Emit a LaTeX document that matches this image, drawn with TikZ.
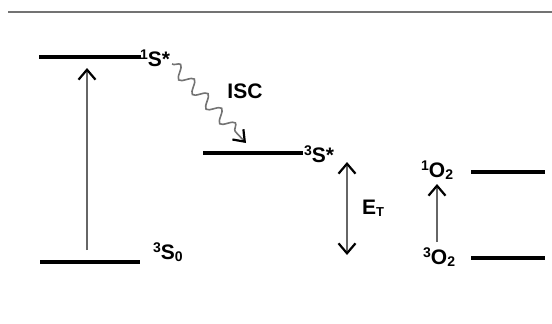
\documentclass[tikz,border=0pt]{standalone}
\usepackage{fontspec}
\setmainfont{Liberation Sans}
\usetikzlibrary{arrows.meta,decorations.pathmorphing}
% small raised / lowered indices in the label font
\newcommand{\upidx}[1]{\raisebox{6.5pt}{\fontsize{14}{14}\selectfont\bfseries #1}}
\newcommand{\dnidx}[1]{\raisebox{-2pt}{\fontsize{14}{14}\selectfont\bfseries #1}}
\tikzset{
  lvtip/.tip={Straight Barb[length=10pt,width=17pt,line width=2.2pt,color=black]},
  wvtip/.tip={Straight Barb[length=10pt,width=15pt,line width=2.2pt,color=black]}
}
\begin{document}
\begin{tikzpicture}[x=1pt,y=-1pt,
  level/.style={line width=3.5pt,black},
  lbl/.style={font=\fontsize{21}{23}\selectfont\bfseries,inner sep=0pt},
  trans/.style={draw=black!60,line width=1.5pt,-lvtip},
  twoway/.style={draw=black!60,line width=1.8pt,lvtip-lvtip},
  isc/.style={draw=black!55,line width=1.6pt,
    decorate,decoration={snake,amplitude=6pt,segment length=20pt,post length=12pt},
    -wvtip}]
\useasboundingbox (0,0) rectangle (552,324);

% frame rule at the top
\draw[black!55,line width=2pt] (8,12) -- (552,12);

% energy levels
\draw[level] (39,57) -- (141,57);
\draw[level] (40,262) -- (140,262);
\draw[level] (203,153) -- (303,153);
\draw[level] (471,172) -- (545,172);
\draw[level] (471,258) -- (545,258);

% state labels
\node[lbl,anchor=base west] (s1) at (140,66) {\upidx{1}S*};
\node[lbl,anchor=base west] (s0) at (153,259) {\upidx{3}S\dnidx{0}};
\node[lbl,anchor=base west] (t1) at (304,162) {\upidx{3}S*};
\node[lbl,anchor=base west] (o1) at (421,177) {\upidx{1}O\dnidx{2}};
\node[lbl,anchor=base west] (o0) at (423,264) {\upidx{3}O\dnidx{2}};
\node[lbl] (iscl) at (245,91) {ISC};
\node[lbl,anchor=base west] (et) at (362,214) {E\dnidx{\fontsize{13}{13}\selectfont T}};

% transition end points
\coordinate (absA) at (87,250);
\coordinate (absB) at (87,68);
\coordinate (iscA) at (172,64);
\coordinate (iscB) at (246,143);
\coordinate (etA) at (347,162);
\coordinate (etB) at (347,255);
\coordinate (oxA) at (437,242);
\coordinate (oxB) at (437,184);

% transitions
\draw[trans] (absA) -- (absB);
\draw[isc] (iscA) -- (iscB);
\draw[twoway] (etA) -- (etB);
\draw[trans] (oxA) -- (oxB);
\end{tikzpicture}
\end{document}
